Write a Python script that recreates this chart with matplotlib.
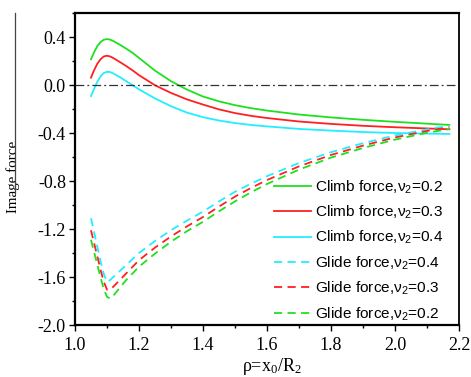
import numpy as np
import matplotlib.pyplot as plt
from matplotlib.lines import Line2D
from matplotlib.ticker import MultipleLocator

# reduced distance rho = x0/R2
rho_climb = [1.05, 1.06, 1.07, 1.08, 1.09, 1.10, 1.11, 1.12, 1.14, 1.16, 1.18, 1.20,
             1.25, 1.30, 1.35, 1.40, 1.45, 1.50, 1.55, 1.60, 1.70, 1.80, 1.90, 2.00, 2.10, 2.17]

# climb force for nu2 = 0.2, 0.3, 0.4
climb_02 = [0.214, 0.275, 0.325, 0.358, 0.377, 0.383, 0.378, 0.366, 0.336, 0.303, 0.268, 0.226,
            0.120, 0.032, -0.038, -0.096, -0.136, -0.168, -0.193, -0.213, -0.246, -0.270, -0.290,
            -0.307, -0.322, -0.333]
climb_03 = [0.061, 0.125, 0.178, 0.215, 0.238, 0.244, 0.238, 0.224, 0.192, 0.158, 0.122, 0.082,
            -0.002, -0.066, -0.120, -0.163, -0.203, -0.234, -0.257, -0.275, -0.304, -0.324, -0.340,
            -0.352, -0.362, -0.369]
climb_04 = [-0.092, -0.030, 0.028, 0.072, 0.100, 0.110, 0.108, 0.096, 0.066, 0.032, -0.002, -0.036,
            -0.112, -0.177, -0.230, -0.268, -0.296, -0.317, -0.333, -0.345, -0.366, -0.380, -0.392,
            -0.400, -0.405, -0.408]

rho_glide = [1.05, 1.06, 1.07, 1.08, 1.09, 1.10, 1.11, 1.12, 1.14, 1.16, 1.18, 1.20,
             1.25, 1.30, 1.35, 1.40, 1.45, 1.50, 1.55, 1.60, 1.70, 1.80, 1.90, 2.00, 2.10, 2.17]

# glide force for nu2 = 0.4, 0.3, 0.2
glide_04 = [-1.110, -1.230, -1.350, -1.470, -1.575, -1.640, -1.625, -1.600, -1.550, -1.500, -1.450, -1.400,
            -1.300, -1.210, -1.130, -1.055, -0.970, -0.890, -0.822, -0.760, -0.650, -0.560, -0.485,
            -0.420, -0.370, -0.340]
glide_03 = [-1.210, -1.320, -1.430, -1.540, -1.640, -1.705, -1.705, -1.680, -1.625, -1.570, -1.515, -1.460,
            -1.355, -1.262, -1.178, -1.100, -1.013, -0.930, -0.858, -0.792, -0.678, -0.583, -0.505,
            -0.437, -0.383, -0.353]
glide_02 = [-1.290, -1.395, -1.500, -1.605, -1.700, -1.765, -1.780, -1.755, -1.690, -1.625, -1.570, -1.514,
            -1.405, -1.306, -1.218, -1.140, -1.052, -0.970, -0.894, -0.825, -0.705, -0.605, -0.525,
            -0.455, -0.398, -0.367]

green = '#1fe01f'
red = '#ff2020'
cyan = '#22eeff'

plt.rcParams['font.family'] = ['Liberation Serif', 'DejaVu Serif']

fig = plt.figure(figsize=(4.71, 3.77), dpi=100)
ax = fig.add_axes([0.1592, 0.1379, 0.8153, 0.8276])

lw = 1.3
dash = (4.5, 3)
ax.plot(rho_climb, climb_02, color=green, lw=lw, label=r'Climb force,$\mathregular{\nu_2}$=0.2')
ax.plot(rho_climb, climb_03, color=red, lw=lw, label=r'Climb force,$\mathregular{\nu_2}$=0.3')
ax.plot(rho_climb, climb_04, color=cyan, lw=lw, label=r'Climb force,$\mathregular{\nu_2}$=0.4')
ax.plot(rho_glide, glide_04, color=cyan, lw=lw, ls=(0, dash), label=r'Glide force,$\mathregular{\nu_2}$=0.4')
ax.plot(rho_glide, glide_03, color=red, lw=lw, ls=(0, dash), label=r'Glide force,$\mathregular{\nu_2}$=0.3')
ax.plot(rho_glide, glide_02, color=green, lw=lw, ls=(0, dash), label=r'Glide force,$\mathregular{\nu_2}$=0.2')

# zero reference
ax.axhline(0, color='#333333', lw=0.9, ls=(0, (7, 2.5, 1.5, 2.5)))

ax.set_xlim(1.0, 2.2)
ax.set_ylim(-2.0, 0.6)
ax.xaxis.set_major_locator(MultipleLocator(0.2))
ax.xaxis.set_minor_locator(MultipleLocator(0.1))
ax.yaxis.set_minor_locator(MultipleLocator(0.2))
ax.set_yticks(np.arange(-2.0, 0.41, 0.4))
ax.set_yticklabels(['-2.0', '-1.6', '-1.2', '-0.8', '-0.4', '0.0', '0.4'])
ax.tick_params(which='major', direction='out', length=4.5, width=1.0, labelsize=13, pad=2)
ax.tick_params(which='minor', direction='out', length=2.5, width=1.0)
ax.tick_params(axis='x', which='major', pad=4)

for side in ['left', 'bottom', 'top']:
    ax.spines[side].set_linewidth(1.6)
ax.spines['right'].set_linewidth(1.3)

ax.set_xlabel(r'ρ=x$\mathregular{_0}$/R$\mathregular{_2}$', fontsize=13)
ax.xaxis.set_label_coords(0.513, -0.098)
ax.set_ylabel('Image force', fontsize=10.8)
ax.yaxis.set_label_coords(-0.143, 0.474)

# bar along the axis title
fig.add_artist(Line2D([15 / 471, 15 / 471], [1 - 13 / 377, 1 - 193 / 377],
                      color='#444444', lw=0.9))

ax.legend(loc='lower right', bbox_to_anchor=(0.974, -0.012), frameon=False,
          prop={'family': 'Liberation Sans', 'size': 11.1},
          handlelength=2.4, handletextpad=0.26, labelspacing=0.52,
          borderaxespad=0.0)

fig.savefig('out.png', dpi=100)
